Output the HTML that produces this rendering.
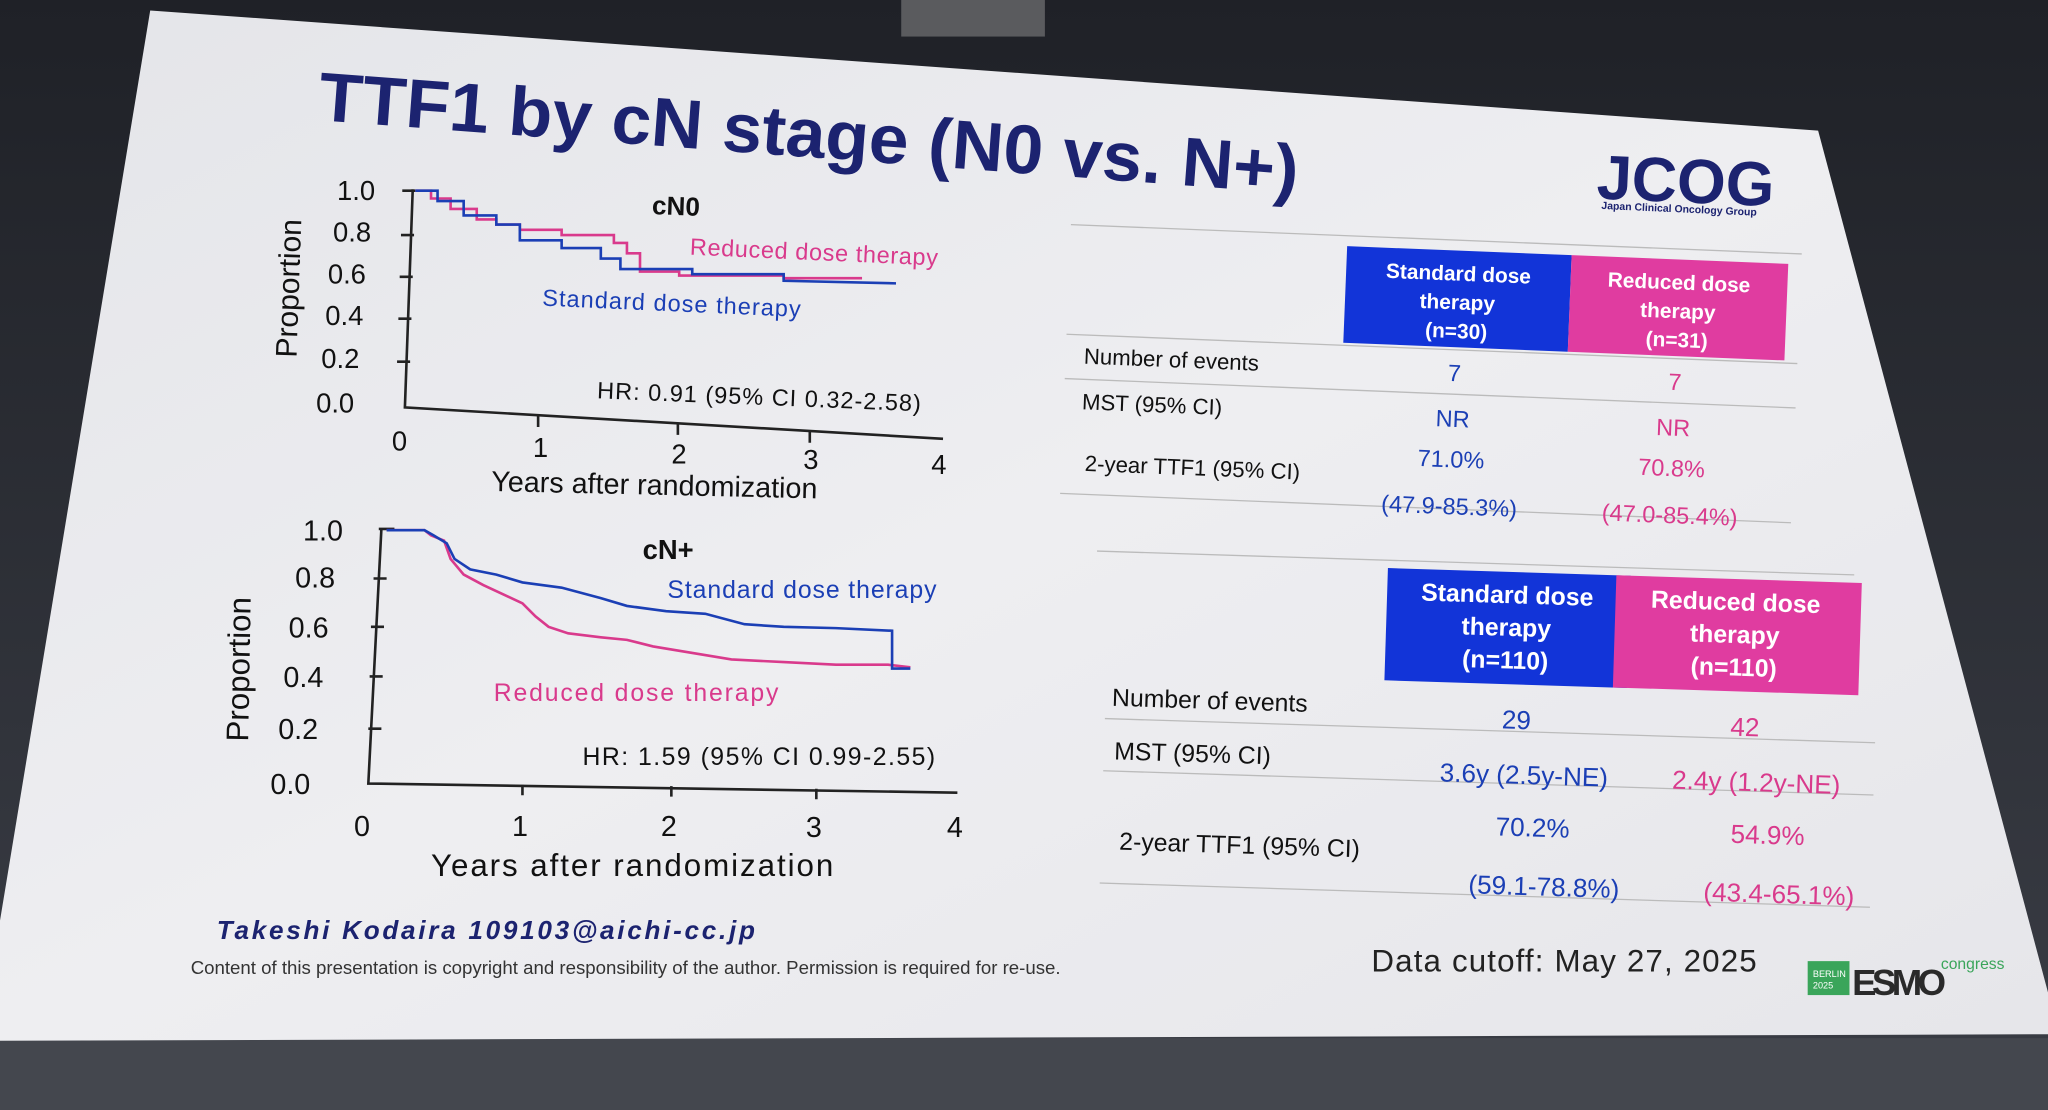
<!DOCTYPE html>
<html><head><meta charset="utf-8"><style>
html,body{margin:0;padding:0;background:#2c2f36;}
svg{display:block}
text{font-family:"Liberation Sans",sans-serif;}
</style></head><body>
<svg width="2048" height="1110" viewBox="0 0 1568 850" preserveAspectRatio="none" xmlns="http://www.w3.org/2000/svg">
<defs>
<linearGradient id="bg" x1="0" y1="0" x2="0" y2="1">
<stop offset="0" stop-color="#1f2127"/><stop offset="1" stop-color="#3a3d45"/></linearGradient>
<linearGradient id="sl" x1="0" y1="0" x2="1" y2="1">
<stop offset="0" stop-color="#e4e5e9"/><stop offset="0.5" stop-color="#eeeef1"/><stop offset="1" stop-color="#e6e6ea"/></linearGradient>
</defs>
<rect width="1568" height="850" fill="url(#bg)"/>
<rect x="0" y="795" width="1568" height="55" fill="#44474e"/>
<rect x="690" y="0" width="110" height="28" fill="#5a5b5e"/>
<polygon points="115,8 1392,100 1568,760 1568,792 0,797 0,705" fill="url(#sl)"/>

<!-- title -->
<text x="243" y="92" font-size="53" font-weight="bold" fill="#1c2370" textLength="752" lengthAdjust="spacingAndGlyphs" transform="rotate(4.3 243 92)">TTF1 by cN stage (N0 vs. N+)</text>
<text x="1222" y="152" font-size="48" font-weight="bold" fill="#1c2370" transform="rotate(2.5 1222 152)">JCOG</text>
<text x="1226" y="160" font-size="8" font-weight="bold" fill="#1c2370" transform="rotate(2.5 1226 160)">Japan Clinical Oncology Group</text>

<!-- top chart -->
<g fill="#111" font-size="21">
<text x="258" y="153">1.0</text><text x="255" y="185">0.8</text><text x="251" y="217">0.6</text>
<text x="249" y="249">0.4</text><text x="246" y="282">0.2</text><text x="242" y="316">0.0</text>
<text x="300" y="345">0</text><text x="408" y="350">1</text><text x="514" y="355">2</text><text x="615" y="359">3</text><text x="713" y="363">4</text>
<text x="376" y="376" font-size="22" transform="rotate(1.3 376 376)">Years after randomization</text>
<text x="227" y="274" font-size="23" transform="rotate(-88 227 274)">Proportion</text>
</g>
<g stroke="#222" stroke-width="2" fill="none">
<path d="M316,145 L310,312 L722,336"/>
<path d="M308,146h10M307,180h10M306,212h10M305,244h10M304,277h10M412,318v9M519,324v9M620,330v9"/>
</g>
<path d="M318,146 L330,146 L330,152 L345,152 L345,160 L365,160 L365,168 L380,168 L380,172 L398,172 L398,176 L430,176 L430,180 L470,180 L470,186 L480,186 L480,194 L490,194 L490,208 L520,208 L520,211 L600,211 L600,213 L660,213" stroke="#d93a8c" stroke-width="2" fill="none"/>
<path d="M318,146 L335,146 L335,154 L355,154 L355,165 L380,165 L380,172 L398,172 L398,184 L430,184 L430,190 L460,190 L460,198 L475,198 L475,206 L530,206 L530,210 L600,210 L600,215 L686,217" stroke="#1b3fb5" stroke-width="2" fill="none"/>
<text x="499" y="164" font-size="20" font-weight="bold" fill="#111" transform="rotate(2 499 164)">cN0</text>
<text x="528" y="195" font-size="18" fill="#d93a8c" textLength="190" transform="rotate(2.5 528 195)">Reduced dose therapy</text>
<text x="415" y="234" font-size="18" fill="#1b3fb5" textLength="198" transform="rotate(2.5 415 234)">Standard dose therapy</text>
<text x="457" y="305" font-size="18" fill="#111" textLength="248" transform="rotate(2.3 457 305)">HR: 0.91 (95% CI 0.32-2.58)</text>

<!-- bottom chart -->
<g fill="#111" font-size="22">
<text x="232" y="414">1.0</text><text x="226" y="450">0.8</text><text x="221" y="488">0.6</text>
<text x="217" y="526">0.4</text><text x="213" y="566">0.2</text><text x="207" y="608">0.0</text>
<text x="271" y="640">0</text><text x="392" y="640">1</text><text x="506" y="640">2</text><text x="617" y="641">3</text><text x="725" y="641">4</text>
<text x="330" y="671" font-size="24" textLength="308">Years after randomization</text>
<text x="190" y="568" font-size="24" transform="rotate(-89 190 568)">Proportion</text>
</g>
<g stroke="#222" stroke-width="2" fill="none">
<path d="M292,405 L282,600 L733,607"/>
<path d="M290,405h12M286,443h10M284,480h10M283,518h10M282,558h10M400,601v8M514,602v8M625,604v8"/>
</g>
<path d="M296,406 L325,406 L330,410 L340,414 L345,428 L355,440 L370,448 L385,455 L400,462 L410,472 L420,480 L435,485 L460,488 L480,490 L500,495 L530,500 L560,505 L600,507 L640,509 L680,509 L697,511" stroke="#d93a8c" stroke-width="2" fill="none"/>
<path d="M296,406 L325,406 L332,410 L342,416 L348,428 L360,436 L380,440 L400,446 L430,450 L460,458 L480,464 L510,468 L540,470 L570,478 L600,480 L640,481 L683,483 L683,512 L697,512" stroke="#1b3fb5" stroke-width="2" fill="none"/>
<text x="492" y="428" font-size="21" font-weight="bold" fill="#111">cN+</text>
<text x="511" y="458" font-size="19" fill="#1b3fb5" textLength="206">Standard dose therapy</text>
<text x="378" y="537" font-size="19" fill="#d93a8c" textLength="218">Reduced dose therapy</text>
<text x="446" y="586" font-size="19" fill="#111" textLength="270">HR: 1.59 (95% CI 0.99-2.55)</text>

<!-- top table -->
<g transform="rotate(2.3 820 170)">
<line x1="820" y1="172" x2="1380" y2="172" stroke="#bbb"/>
<rect x="1032" y="180" width="172" height="74" fill="#1234d8"/>
<rect x="1204" y="180" width="166" height="74" fill="#e03ca0"/>
<g fill="#fff" font-size="16" font-weight="bold" text-anchor="middle">
<text x="1118" y="203">Standard dose</text><text x="1118" y="225">therapy</text><text x="1118" y="247">(n=30)</text>
<text x="1287" y="203">Reduced dose</text><text x="1287" y="225">therapy</text><text x="1287" y="247">(n=31)</text>
</g>
<line x1="820" y1="256" x2="1380" y2="256" stroke="#bbb"/>
<line x1="820" y1="290" x2="1380" y2="290" stroke="#bbb"/>
<line x1="820" y1="378" x2="1380" y2="378" stroke="#bbb"/>
<g fill="#111" font-size="17">
<text x="834" y="278">Number of events</text><text x="834" y="313">MST (95% CI)</text><text x="838" y="360">2-year TTF1 (95% CI)</text>
</g>
<g font-size="18" text-anchor="middle">
<text x="1118" y="280" fill="#1b3fb5">7</text><text x="1287" y="280" fill="#d93a8c">7</text>
<text x="1118" y="315" fill="#1b3fb5">NR</text><text x="1287" y="315" fill="#d93a8c">NR</text>
<text x="1118" y="346" fill="#1b3fb5">71.0%</text><text x="1287" y="346" fill="#d93a8c">70.8%</text>
<text x="1118" y="382" fill="#1b3fb5">(47.9-85.3%)</text><text x="1287" y="382" fill="#d93a8c">(47.0-85.4%)</text>
</g>
</g>

<!-- bottom table -->
<g transform="rotate(1.8 840 420)">
<line x1="840" y1="422" x2="1420" y2="422" stroke="#bbb"/>
<rect x="1063" y="428" width="186" height="86" fill="#1234d8"/>
<rect x="1238" y="428" width="188" height="86" fill="#e03ca0"/>
<g fill="#fff" font-size="19" font-weight="bold" text-anchor="middle">
<text x="1155" y="452">Standard dose</text><text x="1155" y="477">therapy</text><text x="1155" y="502">(n=110)</text>
<text x="1330" y="452">Reduced dose</text><text x="1330" y="477">therapy</text><text x="1330" y="502">(n=110)</text>
</g>
<line x1="850" y1="550" x2="1440" y2="550" stroke="#bbb"/>
<line x1="850" y1="590" x2="1440" y2="590" stroke="#bbb"/>
<line x1="850" y1="676" x2="1440" y2="676" stroke="#bbb"/>
<g fill="#111" font-size="19">
<text x="855" y="540">Number of events</text><text x="858" y="581">MST (95% CI)</text><text x="864" y="650">2-year TTF1 (95% CI)</text>
</g>
<g font-size="20" text-anchor="middle">
<text x="1165" y="548" fill="#1b3fb5">29</text><text x="1340" y="548" fill="#d93a8c">42</text>
<text x="1172" y="590" fill="#1b3fb5">3.6y (2.5y-NE)</text><text x="1350" y="590" fill="#d93a8c">2.4y (1.2y-NE)</text>
<text x="1180" y="630" fill="#1b3fb5">70.2%</text><text x="1360" y="630" fill="#d93a8c">54.9%</text>
<text x="1190" y="675" fill="#1b3fb5">(59.1-78.8%)</text><text x="1370" y="675" fill="#d93a8c">(43.4-65.1%)</text>
</g>
</g>

<!-- footer -->
<text x="166" y="719" font-size="20" font-weight="bold" font-style="italic" fill="#1c2370" textLength="412">Takeshi Kodaira  109103@aichi-cc.jp</text>
<text x="146" y="746" font-size="14" fill="#333" textLength="666" lengthAdjust="spacingAndGlyphs">Content of this presentation is copyright and responsibility of the author. Permission is required for re-use.</text>
<text x="1050" y="744" font-size="24" fill="#222" textLength="295">Data cutoff: May 27, 2025</text>
<rect x="1384" y="736" width="32" height="26" fill="#3aa55a"/>
<text x="1388" y="748" font-size="7" fill="#fff">BERLIN</text><text x="1388" y="757" font-size="7" fill="#fff">2025</text>
<text x="1418" y="762" font-size="28" font-weight="bold" fill="#2a2a2a" textLength="72">ESMO</text>
<text x="1486" y="742" font-size="12" fill="#3aa55a">congress</text>
</svg>
</body></html>
